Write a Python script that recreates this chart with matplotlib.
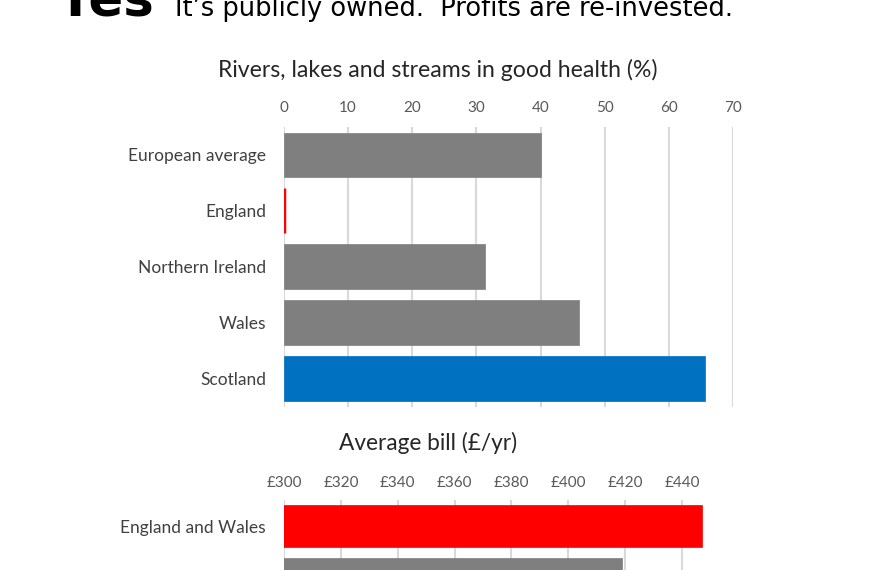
import matplotlib.pyplot as plt

# River health data (top to bottom)
river_regions = ["European average", "England", "Northern Ireland", "Wales", "Scotland"]
river_good_pct = [40, 0, 31.3, 46, 65.7]
river_colors = ["#7f7f7f", "#ff0000", "#7f7f7f", "#7f7f7f", "#0070c0"]
river_ticks = [0, 10, 20, 30, 40, 50, 60, 70]

# Average bill data (second bar is cut off at the bottom of the picture)
bill_regions = ["England and Wales", "Scotland"]
bill_values = [447, 419]
bill_colors = ["#ff0000", "#7f7f7f"]
bill_ticks = [300, 320, 340, 360, 380, 400, 420, 440]

W, H = 870, 570
font = ["Lato", "DejaVu Sans"]
tick_col = "#595959"
lab_col = "#404040"
grid_col = "#d9d9d9"

fig = plt.figure(figsize=(W / 100, H / 100), dpi=100)


def px_axes(left, top, right, bottom):
    # axes from pixel box (origin top-left)
    return fig.add_axes([left / W, 1 - bottom / H, (right - left) / W, (bottom - top) / H])


def style(ax, ticks, labels, pad):
    ax.set_xticks(ticks)
    ax.set_xticklabels(labels, fontsize=11, color=tick_col, family=font)
    ax.xaxis.tick_top()
    ax.tick_params(axis="x", length=0, pad=pad)
    ax.tick_params(axis="y", length=0, pad=13)
    for lab in ax.get_yticklabels():
        lab.set_fontsize(12.5)
        lab.set_color(lab_col)
        lab.set_family(font)
    for s in ax.spines.values():
        s.set_visible(False)
    ax.grid(axis="x", color=grid_col, linewidth=1.5)
    ax.set_axisbelow(True)


# header (cut at the top of the page)
fig.text(57 / W, 1 - 16 / H, "Yes", fontsize=37, fontweight="black", color="black",
         family=["DejaVu Sans"], va="baseline", ha="left")
fig.text(175 / W, 1 - 16 / H, "It\u2019s publicly owned.  Profits are re-invested.",
         fontsize=18.5, color="black", family=["DejaVu Sans"], va="baseline", ha="left")

# chart 1
ax1 = px_axes(284, 127, 733, 406.5)
widths1 = [2.5 if v == 0 else 0.5 for v in river_good_pct]
ax1.barh(range(len(river_regions)), river_good_pct, height=0.8, color=river_colors,
         edgecolor=river_colors, linewidth=widths1)
ax1.set_yticks(range(len(river_regions)))
ax1.set_yticklabels(river_regions)
ax1.set_xlim(0, 70)
ax1.set_ylim(len(river_regions) - 0.5, -0.5)
style(ax1, river_ticks, [str(t) for t in river_ticks], 9)
fig.text(438 / W, 1 - 70 / H, "Rivers, lakes and streams in good health (%)",
         fontsize=16.6, color="#262626", family=font, ha="center", va="center")

# chart 2
ax2 = px_axes(284, 500, 710.5, 605)
ax2.barh(range(len(bill_regions)), bill_values, height=0.8, color=bill_colors,
         edgecolor=bill_colors, linewidth=0.5)
ax2.set_yticks(range(len(bill_regions)))
ax2.set_yticklabels(bill_regions)
ax2.set_xlim(300, 450)
ax2.set_ylim(len(bill_regions) - 0.5, -0.5)
style(ax2, bill_ticks, ["\u00a3%d" % t for t in bill_ticks], 7)
fig.text(428 / W, 1 - 443 / H, "Average bill (\u00a3/yr)",
         fontsize=16.3, color="#262626", family=font, ha="center", va="center")

fig.savefig("out.png", dpi=100)
